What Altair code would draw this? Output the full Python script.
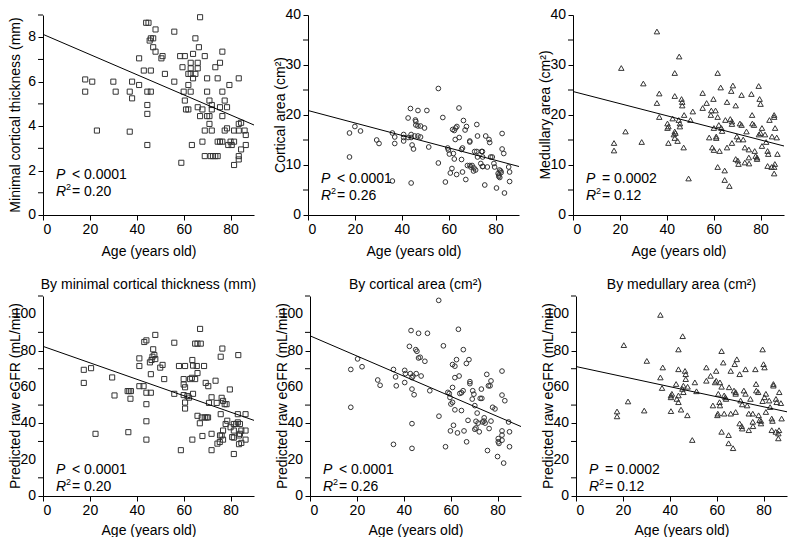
import altair as alt
import pandas as pd

FONT = "Liberation Sans"

# ---------------- data ----------------
x_ends = [0, 90]

# Panel 1: minimal cortical thickness (mm)
thick_age = [18, 18, 21, 23, 30, 31, 37, 38, 38, 37, 41, 41, 43, 44, 45, 46, 44.5, 46, 44.5, 44.5,
             44.5, 45.5, 46, 47, 47, 48, 48, 50.5, 51, 52, 56, 56, 58.5, 59.5, 60, 60.5, 59, 60.5, 61, 62,
             62, 62, 63, 63, 63, 63, 64, 64, 65, 65, 66, 66, 66.5, 66, 67, 63.5, 68, 68, 69, 69,
             69, 70, 70, 70, 71, 71, 71, 72, 72, 72, 71.5, 72.5, 73.5, 74.5, 73.5, 74.5, 75.5, 76.5, 75.5, 76.5,
             76.5, 74.5, 75.5, 76.5, 77.5, 77.5, 78.5, 79.5, 78.5, 79, 80.5, 80, 81.5, 81.5, 81.5, 83.5, 83.5, 83.5, 84.5, 83.5,
             83.5, 84.5, 86, 86.5, 86.5, 67]
thick_val = [6.1, 5.55, 6.0, 3.8, 6.0, 5.55, 5.55, 5.25, 6.0, 3.75, 5.85, 7.05, 6.5, 8.65, 8.65, 6.5, 5.55, 5.55, 4.95, 4.55,
             3.15, 7.85, 7.95, 7.95, 7.55, 8.35, 7.35, 7.05, 7.15, 6.35, 8.25, 6.0, 7.15, 6.65, 5.55, 5.15, 2.35, 7.15, 4.75, 4.75,
             5.85, 6.35, 6.35, 5.55, 6.85, 6.6, 7.25, 6.15, 7.95, 6.35, 6.85, 6.6, 7.55, 4.85, 4.45, 3.15, 4.75, 3.3, 7.15, 3.8,
             2.65, 6.15, 5.55, 4.45, 4.45, 5.15, 4.1, 4.95, 4.75, 3.8, 2.65, 2.65, 2.65, 2.65, 6.65, 6.15, 6.85, 7.35, 4.85, 4.45,
             5.55, 3.3, 3.3, 3.3, 5.15, 3.8, 4.85, 5.85, 3.9, 3.15, 3.15, 3.3, 3.3, 3.8, 2.25, 6.15, 3.8, 4.1, 4.15, 2.65,
             2.5, 2.95, 3.8, 3.6, 3.15, 8.9]
thick_fit = [8.13, 4.05]

# Panel 2: cortical area (cm2)
cort_age = [17.7, 17.7, 20, 22.4, 29.3, 30.3, 36, 37, 37, 36, 40.8, 40.8, 40.8, 42.7, 43.7, 42.7, 44, 44, 44.4, 45,
            44, 45.8, 46, 46, 46.9, 46.9, 48, 45.5, 46.9, 48, 49.7, 50.7, 51.5, 55.6, 55.6, 57.5, 58.6, 59.6, 59.9, 60.3,
            60.7, 61.4, 61.7, 62.4, 62, 62.4, 62.8, 63.4, 64.4, 63, 63.5, 64.5, 65.5, 65.9, 65.5, 66.3, 67, 67.6, 65.9, 67.3,
            69, 69, 68, 69, 69.4, 70, 70.8, 70.6, 71.5, 71.1, 72, 72.3, 74, 74.4, 73.7, 74.4, 74.6, 74.5, 72.3, 72,
            75.8, 77.2, 77.5, 75.4, 76.5, 77.9, 78.6, 79.3, 79.6, 81.1, 81.4, 81.4, 81.8, 81.7, 82.2, 82.4, 82.8, 82.8, 83.5, 80.4,
            83.8, 85.6, 86, 86]
cort_val = [16.4, 11.6, 17.7, 16.8, 15.0, 14.3, 16.4, 15.6, 14.3, 6.8, 16.1, 15.5, 14.8, 19.4, 21.3, 15.5, 15.5, 16.1, 14.0, 13.2,
            6.4, 19.0, 18.7, 18.0, 20.9, 17.8, 17.8, 15.8, 15.8, 15.6, 17.4, 20.9, 13.6, 25.3, 10.4, 19.5, 6.6, 13.4, 13.0, 12.2,
            8.4, 9.3, 17.1, 16.9, 12.3, 11.2, 15.1, 8.1, 21.4, 17.4, 17.7, 15.5, 13.1, 13.4, 11.1, 18.9, 17.0, 17.7, 8.6, 7.1,
            14.8, 14.6, 9.9, 9.9, 9.6, 9.9, 9.4, 8.8, 9.0, 12.7, 12.7, 11.6, 12.7, 12.7, 10.3, 9.7, 9.7, 11.6, 15.8, 18.1,
            15.8, 15.1, 14.5, 6.0, 9.6, 11.6, 11.6, 10.3, 9.6, 8.3, 7.7, 8.0, 7.5, 9.0, 8.8, 8.5, 16.3, 13.2, 12.3, 5.4,
            4.4, 9.6, 8.6, 6.7]
cort_fit = [20.9, 9.7]

# Panel 3: medullary area (cm2)
med_age = [17.5, 17.5, 20.6, 22.4, 29.3, 30, 35.8, 35.8, 36.8, 36.8, 40.3, 40.7, 40.3, 40.7, 42.5, 43, 43.4, 43.4, 43.7, 43.4,
           43.4, 44.6, 45.3, 45.1, 45.6, 45.6, 46.3, 46.6, 46.6, 47.2, 47.4, 49.3, 50.1, 51.1, 55.3, 55.3, 57, 58.1, 58.8, 59,
           59.4, 60.1, 59.9, 60.1, 60.8, 61.1, 61.1, 61.7, 61.7, 61.7, 62.2, 63.3, 63.6, 63, 62.5, 64.7, 64.7, 65, 65.7, 65.7,
           66.7, 67.1, 67.8, 67.8, 67.5, 68.2, 67.8, 69.4, 69.9, 70.6, 69.4, 70.3, 70.6, 71.2, 71.9, 71.9, 72.6, 73.3, 73.3, 74,
           75, 75.1, 75, 76.1, 76.4, 76.5, 77.2, 77.5, 77.9, 78.5, 78.5, 79.2, 79.6, 80, 79.3, 80.6, 80, 80.6, 81.9, 82.4,
           83, 83.3, 83.8, 84.9, 85.8, 85.8, 86.1, 85.8, 85.8, 86.2, 86.9, 83, 84.7, 87.2]
med_val = [14.4, 12.9, 29.4, 16.7, 14.6, 26.3, 36.7, 22.4, 24.3, 19.6, 18.3, 17.7, 17.4, 14.4, 19.3, 16.1, 15.4, 16.7, 16.4, 23.8,
           28.4, 14.8, 31.7, 19.0, 18.3, 17.7, 23.2, 22.6, 21.9, 13.5, 20.0, 7.3, 19.0, 20.7, 24.4, 21.4, 22.4, 15.5, 20.0, 20.9,
           13.5, 13.0, 23.2, 17.4, 20.9, 15.7, 15.4, 28.4, 19.6, 9.6, 18.0, 17.4, 16.8, 25.5, 12.8, 8.9, 7.0, 19.0, 22.6, 13.5,
           5.8, 19.2, 18.7, 18.2, 24.8, 25.9, 14.4, 21.9, 15.7, 15.1, 11.2, 10.9, 10.2, 18.3, 18.0, 24.0, 15.1, 13.5, 10.5, 16.7,
           13.1, 10.3, 11.5, 24.2, 20.0, 18.3, 18.0, 12.8, 11.8, 11.5, 11.2, 25.8, 23.2, 22.2, 16.1, 17.4, 16.4, 13.8, 16.1, 14.6,
           12.8, 12.2, 19.0, 15.7, 20.0, 19.6, 10.2, 9.6, 8.3, 17.4, 15.5, 9.8, 9.6, 12.2]
med_fit = [24.7, 13.8]

# Panel 4: predicted eGFR by minimal cortical thickness
p4_age = [17.4, 17.4, 20.5, 22.4, 29.5, 30.5, 36.1, 36.8, 37.5, 37.3, 36.4, 41.1, 41.1, 41.1, 42.9, 43.2, 44.1, 44.1, 44.1, 44.1,
          44.1, 45.6, 46.3, 46, 46, 46.7, 47.5, 47, 47.9, 47.9, 51, 50, 51.7, 56, 56, 58, 60.6, 58.8, 60, 60,
          60.6, 60, 60.6, 60.6, 61.6, 62.3, 62.7, 63.5, 63.7, 64, 64.9, 64, 64.9, 65.9, 65.9, 65.6, 63.7, 65.9, 67, 67.3,
          66.9, 68.7, 67.7, 69, 69.8, 68, 69.4, 70.5, 70.4, 70.8, 71.9, 71.9, 71.9, 73.6, 74.1, 74.4, 75.4, 75.5, 76.2, 75.8,
          76.5, 75.8, 76.2, 76.8, 76.8, 76.8, 77.5, 78.3, 77.9, 78.6, 79.7, 80, 80.7, 81.4, 81.4, 82.4, 81.4, 81.4, 83.1, 83.1,
          84, 83.6, 84, 83.3, 83.6, 84.6, 84.6, 86.4, 86.4, 86.4]
p4_val = [69.4, 62.2, 70.3, 34.2, 65.2, 55.3, 57.7, 57.7, 57.7, 53.5, 35.1, 75.7, 71.5, 60.4, 60.4, 84.7, 85.6, 56.8, 50.5, 41.1,
          31.0, 73.5, 74.8, 56.8, 67.0, 76.6, 77.5, 80.7, 75.3, 88.6, 72.1, 70.6, 64.3, 84.3, 56.2, 71.5, 71.5, 25.2, 64.3, 61.3,
          59.8, 55.5, 51.4, 48.1, 55.0, 54.1, 64.3, 65.0, 74.8, 71.7, 64.3, 56.2, 83.8, 83.8, 67.6, 71.5, 31.0, 44.1, 91.9, 83.8,
          40.0, 71.5, 43.2, 43.2, 43.2, 33.0, 62.2, 60.4, 43.2, 51.2, 54.3, 34.2, 25.2, 63.4, 51.2, 28.8, 29.7, 33.3, 33.3, 76.6,
          81.1, 45.0, 54.0, 52.3, 36.0, 31.0, 50.5, 50.5, 39.6, 41.4, 58.6, 37.8, 32.4, 32.1, 39.6, 39.6, 36.0, 23.1, 45.0, 40.5,
          39.6, 33.3, 34.2, 77.5, 28.5, 29.2, 36.0, 36.0, 31.0, 45.0]
p4_fit = [82.3, 41.6]

# Panel 5: predicted eGFR by cortical area
p5_age = [17.4, 17.4, 20.3, 22.2, 28.9, 29.9, 35.6, 35.6, 36.5, 36.8, 40.4, 40.7, 40.4, 42.4, 43.5, 42.8, 43.5, 43.9, 43.1, 43.5,
          44.4, 43.5, 45.1, 45.6, 45.3, 46.3, 47, 46.3, 47.4, 49, 50.1, 51.1, 54.9, 55, 56.9, 57.8, 58.8, 59.4, 59.7, 60.1,
          60.8, 59.9, 60.8, 60.8, 61.8, 62.5, 61.2, 61.8, 61.8, 62.9, 63.3, 63.6, 63.9, 64.6, 64.6, 65.3, 65.4, 65.7, 66.7, 67.8,
          67.4, 68.2, 68.2, 66.8, 69.2, 69.4, 69.9, 70.3, 70.8, 71.7, 70.8, 70.3, 71.3, 72.2, 72.6, 73.3, 73.1, 73.6, 74.2, 74.7,
          74.3, 75.4, 75.7, 76.1, 76.8, 76.4, 77.2, 77.2, 77.9, 78.9, 80, 80.3, 80.3, 80.6, 81.9, 81.9, 83.1, 81.9, 81.9, 81.9,
          82.6, 84.7, 85.1, 85.1]
p5_val = [69.6, 48.8, 75.4, 71.1, 63.8, 60.9, 69.6, 28.4, 65.5, 60.6, 69.1, 67.3, 62.4, 82.3, 39.8, 67.3, 65.1, 66.0, 91.0, 58.8,
          55.7, 26.2, 80.5, 79.6, 67.3, 75.9, 76.3, 89.5, 66.0, 74.1, 89.5, 57.9, 107.6, 43.9, 82.6, 27.1, 57.0, 56.4, 54.2, 50.6,
          51.5, 35.8, 59.7, 72.3, 71.4, 75.0, 38.9, 65.1, 47.4, 34.7, 91.7, 66.0, 56.4, 56.8, 47.0, 57.9, 80.5, 35.8, 72.9, 75.0,
          41.6, 62.9, 61.8, 29.8, 53.3, 57.9, 56.0, 49.7, 41.1, 40.1, 37.4, 36.7, 45.6, 35.3, 53.7, 53.7, 58.8, 40.7, 41.2, 40.1,
          43.0, 66.9, 25.0, 60.6, 60.6, 37.1, 63.3, 41.2, 48.8, 47.9, 21.7, 31.6, 29.8, 28.9, 68.7, 55.5, 52.4, 35.8, 33.5, 30.7,
          18.1, 40.7, 35.3, 27.1]
p5_fit = [88.1, 38.2]

# Panel 6: predicted eGFR by medullary area
p6_age = [17.5, 17.5, 20.4, 22.2, 29.1, 30.2, 36, 36, 37, 36.7, 40.5, 40.9, 40.5, 40.5, 42.7, 43, 43.7, 43.7, 43.7, 43.7,
          44.8, 45.5, 45.4, 45.8, 45.8, 46.5, 46.8, 46.8, 47.5, 47.6, 49.6, 50.7, 51.4, 55.6, 55.6, 57.4, 58.4, 59.3, 59.8, 59.8,
          60.5, 60.3, 60.7, 61.4, 61.2, 61.4, 62.1, 62.1, 62.1, 62.8, 63.2, 63.7, 64, 63.2, 65.1, 65.1, 65.3, 66, 66, 67,
          67.4, 68.1, 68.1, 67.7, 68.6, 68.1, 69.8, 70.2, 70.9, 69.8, 70.7, 70.9, 71.6, 72.3, 72.3, 73, 73.7, 73.7, 74.4, 75.4,
          75.4, 75.5, 76.5, 76.8, 76.9, 77.7, 77.9, 78.3, 78.9, 78.9, 79.6, 80, 80.4, 79.6, 81, 80.4, 81, 82.4, 82.8, 83.5,
          83.8, 84.2, 84.2, 85.3, 85.6, 86.6, 86.3, 86.3, 86.7, 87.4, 83.5, 85.2, 87.7]
p6_val = [46.5, 43.8, 83.0, 52.0, 47.0, 74.3, 99.6, 65.2, 70.7, 59.4, 55.3, 56.2, 54.3, 46.7, 61.6, 53.4, 51.6, 55.3, 80.6, 69.7,
          47.5, 87.9, 58.9, 60.7, 57.1, 68.8, 67.0, 64.3, 44.4, 60.1, 30.8, 62.5, 57.6, 70.7, 63.4, 66.1, 49.8, 62.5, 63.4, 68.8,
          45.3, 44.4, 56.2, 62.5, 51.6, 49.8, 79.7, 60.1, 35.3, 73.4, 55.3, 54.3, 53.4, 45.3, 33.5, 29.0, 59.8, 68.8, 45.3, 26.3,
          58.0, 57.1, 56.2, 72.5, 75.2, 46.2, 67.0, 52.5, 50.4, 39.9, 38.4, 37.1, 58.0, 56.2, 69.7, 49.8, 45.3, 36.2, 53.4, 45.3,
          40.8, 38.4, 69.7, 61.6, 58.0, 57.1, 44.4, 41.7, 41.3, 39.9, 80.6, 72.5, 70.7, 52.2, 56.2, 54.3, 46.2, 52.5, 48.9, 42.6,
          41.3, 61.6, 60.7, 53.4, 51.6, 36.2, 34.4, 31.7, 57.1, 51.1, 36.2, 35.3, 42.6]
p6_fit = [71.2, 46.3]

AGE_TICKS = list(range(0, 91, 10))
W, H = 211, 200


def txt(s, x, y, size=14, style="normal", angle=0, align="left"):
    return alt.Chart(pd.DataFrame({"t": [s]})).mark_text(
        align=align, baseline="middle", font=FONT, fontSize=size, fontStyle=style, color="black",
        angle=angle
    ).encode(text="t:N", x=alt.value(x), y=alt.value(y))


def panel(ages, vals, fit, shape, size, ytitle, ymax, ystep, ylab, ptext, rtext, py,
          title=None, xtpad=8):
    df = pd.DataFrame({"age": ages, "val": vals})
    major = list(range(0, ymax + 1, ylab))
    minor = [v for v in range(0, ymax + 1, ystep) if v % ylab != 0]
    xax = alt.Axis(values=AGE_TICKS, labelExpr="datum.value % 20 == 0 ? datum.label : ''",
                   title="Age (years old)", titlePadding=xtpad, labelOverlap=False)
    yax = alt.Axis(values=major, title=None, labels=False)
    x = alt.X("age:Q", scale=alt.Scale(domain=[0, 90], nice=False), axis=xax)
    y = alt.Y("val:Q", scale=alt.Scale(domain=[0, ymax], nice=False), axis=yax)
    pts = alt.Chart(df).mark_point(shape=shape, filled=False, size=size, color="#333333",
                                   strokeWidth=1, opacity=1).encode(x=x, y=y)
    line = alt.Chart(pd.DataFrame({"age": x_ends, "val": fit})).mark_line(
        color="black", strokeWidth=1).encode(x="age:Q", y="val:Q")
    minor_ticks = alt.Chart(pd.DataFrame({"val": minor})).mark_rule(
        color="black", strokeWidth=1).encode(y="val:Q", x=alt.value(-5), x2=alt.value(0))
    ylabels = alt.Chart(pd.DataFrame({"val": major, "lab": [str(v) for v in major]})).mark_text(
        align="right", baseline="middle", font=FONT, fontSize=14, color="black"
    ).encode(y="val:Q", text="lab:N", x=alt.value(-7))
    x0 = 13
    layers = [pts, line, minor_ticks, ylabels,
              txt(ytitle, -27, H / 2, angle=270, align="center"),
              txt("P", x0, py, style="italic"),
              txt(ptext, x0 + 16, py),
              txt("R", x0, py + 17, style="italic"),
              txt("2", x0 + 10, py + 12, size=9),
              txt(rtext, x0 + 16, py + 17)]
    props = dict(width=W, height=H)
    if title:
        props["title"] = alt.TitleParams(title, fontSize=14, fontWeight="normal", font=FONT,
                                         offset=4, anchor="middle", color="black")
    return alt.layer(*layers).properties(**props)


top = alt.hconcat(
    panel(thick_age, thick_val, thick_fit, "square", 26, "Minimal cortical thickness (mm)", 9, 1, 2,
          "< 0.0001", "= 0.20", 160),
    panel(cort_age, cort_val, cort_fit, "circle", 22, "Cortical area (cm²)", 40, 5, 10,
          "< 0.0001", "= 0.26", 164),
    panel(med_age, med_val, med_fit, "triangle-up", 30, "Medullary area (cm²)", 40, 5, 10,
          "= 0.0002", "= 0.12", 164),
    spacing=18,
)
bottom = alt.hconcat(
    panel(p4_age, p4_val, p4_fit, "square", 26, "Predicted raw eGFR (mL/min)", 110, 10, 20,
          "< 0.0001", "= 0.20", 174, title="By minimal cortical thickness (mm)", xtpad=6),
    panel(p5_age, p5_val, p5_fit, "circle", 22, "Predicted raw eGFR (mL/min)", 110, 10, 20,
          "< 0.0001", "= 0.26", 174, title="By cortical area (cm²)", xtpad=6),
    panel(p6_age, p6_val, p6_fit, "triangle-up", 30, "Predicted raw eGFR (mL/min)", 110, 10, 20,
          "= 0.0002", "= 0.12", 174, title="By medullary area (cm²)", xtpad=6),
    spacing=18,
)

chart = alt.vconcat(top, bottom, spacing=19).properties(
    padding={"left": 0, "top": 0, "right": 0, "bottom": 0}
).configure_view(stroke=None).configure_axis(
    grid=False, domainColor="black", tickColor="black", labelColor="black", titleColor="black",
    labelFont=FONT, titleFont=FONT, labelFontSize=14, titleFontSize=14, titleFontWeight="normal",
    tickSize=5, labelPadding=2, titlePadding=4, domainWidth=1, tickWidth=1,
)

chart.save("out.html", embed_options={"renderer": "svg", "actions": False})
